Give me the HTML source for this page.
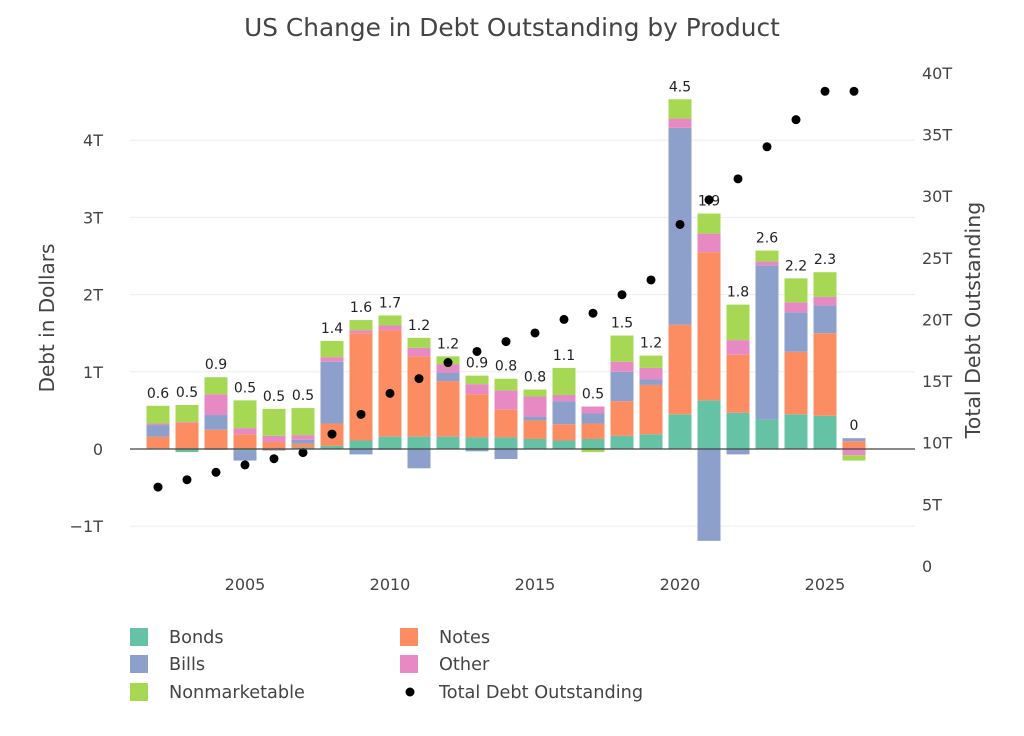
<!DOCTYPE html>
<html><head><meta charset="utf-8"><style>
body{margin:0;background:#fff;font-family:"DejaVu Sans",sans-serif}
svg text{font-family:"DejaVu Sans",sans-serif}
</style></head><body>
<svg id="c" width="1024" height="732" xmlns="http://www.w3.org/2000/svg">
<text x="512" y="36" text-anchor="middle" font-size="24.8" fill="#444">US Change in Debt Outstanding by Product</text>
<g id="grid"></g><g id="bars"></g><g id="dots"></g><g id="axes"></g><g id="legend"></g>
</svg>
<script>
const years=[2002,2003,2004,2005,2006,2007,2008,2009,2010,2011,2012,2013,2014,2015,2016,2017,2018,2019,2020,2021,2022,2023,2024,2025,2026];
const bonds=[0.01,-0.04,-0.01,-0.02,0,0.02,0.04,0.11,0.16,0.16,0.16,0.15,0.15,0.13,0.11,0.13,0.17,0.19,0.45,0.63,0.47,0.38,0.45,0.43,0];
const notes=[0.15,0.34,0.25,0.19,0.09,0.05,0.29,1.39,1.38,1.04,0.72,0.56,0.36,0.24,0.21,0.20,0.45,0.64,1.16,1.92,0.75,0,0.81,1.07,0.10];
const bills=[0.15,0,0.19,-0.13,-0.02,0.05,0.80,-0.07,-0.01,-0.25,0.11,-0.03,-0.13,0.05,0.30,0.13,0.38,0.07,2.55,-1.19,-0.07,2.00,0.51,0.36,0.04];
const other=[0.02,0.01,0.27,0.08,0.08,0.06,0.06,0.04,0.06,0.11,0.11,0.13,0.25,0.26,0.08,0.09,0.13,0.15,0.12,0.24,0.19,0.05,0.13,0.11,-0.08];
const nonmarketable=[0.23,0.22,0.22,0.36,0.35,0.35,0.21,0.13,0.13,0.13,0.10,0.11,0.15,0.09,0.35,-0.04,0.34,0.16,0.25,0.26,0.46,0.14,0.31,0.32,-0.07];
const labels=["0.6","0.5","0.9","0.5","0.5","0.5","1.4","1.6","1.7","1.2","1.2","0.9","0.8","0.8","1.1","0.5","1.5","1.2","4.5","1.9","1.8","2.6","2.2","2.3","0"];
const totalDebt=[6.4,7.0,7.6,8.2,8.7,9.2,10.7,12.3,14.0,15.2,16.5,17.4,18.2,18.9,20.0,20.5,22.0,23.2,27.7,29.7,31.4,34.0,36.2,38.5,38.5];
const leftTicks=[-1,0,1,2,3,4];
const leftTickLabels=["−1T","0","1T","2T","3T","4T"];
const rightTicks=[0,5,10,15,20,25,30,35,40];
const xTicks=[2005,2010,2015,2020,2025];

const NS="http://www.w3.org/2000/svg";
const X0=130,X1=915;
const x=yr=>245+(yr-2005)*29;
const yL=v=>449-v*77.2;
const yR=v=>566-v*12.33;
function el(t,a,p){const e=document.createElementNS(NS,t);for(const k in a)e.setAttribute(k,a[k]);document.getElementById(p).appendChild(e);return e;}

leftTicks.forEach((t,i)=>{
  if(t!==0){const g=el('line',{x1:X0,x2:X1,y1:yL(t),y2:yL(t),stroke:'#eee','stroke-width':1},'grid');
  
  }
  const tx=el('text',{x:103,y:yL(t)+6,'text-anchor':'end','font-size':16,fill:'#444'},'axes');tx.textContent=leftTickLabels[i];
  
  
});
rightTicks.forEach(t=>{
  const tx=el('text',{x:922,y:yR(t)+6,'font-size':16,fill:'#444'},'axes');tx.textContent=t===0?'0':t+'T';
  
  
});
xTicks.forEach(t=>{
  const tx=el('text',{x:x(t),y:590,'text-anchor':'middle','font-size':16,fill:'#444'},'axes');tx.textContent=t;
  
  
});
const series=[["Bonds",bonds,"#66c2a5"],["Notes",notes,"#fc8d62"],["Bills",bills,"#8da0cb"],["Other",other,"#e78ac3"],["Nonmarketable",nonmarketable,"#a6d854"]];
years.forEach((yr,i)=>{
  let pos=0,neg=0;
  series.forEach(([n,arr,c])=>{
    const v=arr[i];if(!v)return;
    let a,b;if(v>0){a=pos;b=pos+v;pos=b;}else{a=neg;b=neg+v;neg=b;}
    const r=el('rect',{x:x(yr)-11.5,width:23,y:yL(Math.max(a,b)),height:Math.abs(yL(a)-yL(b)),fill:c},'bars');
    
    
  });
  const t=el('text',{x:x(yr),y:yL(pos)-8,'text-anchor':'middle','font-size':14,fill:'#222'},'bars');t.textContent=labels[i];
  
  
  const d=el('circle',{cx:x(yr),cy:yR(totalDebt[i]),r:4.5,fill:'#000'},'dots');
  
  
});
const z=el('line',{x1:X0,x2:X1,y1:yL(0),y2:yL(0),stroke:'#444','stroke-width':1.2},'axes');


const t1=el('text',{x:54,y:318,'text-anchor':'middle','font-size':20,fill:'#444',transform:'rotate(-90 54 318)'},'axes');t1.textContent='Debt in Dollars';


const t2=el('text',{x:980,y:320,'text-anchor':'middle','font-size':20.5,fill:'#444',transform:'rotate(-90 980 320)'},'axes');t2.textContent='Total Debt Outstanding';


const leg=[["Bonds","#66c2a5",130,637,0],["Notes","#fc8d62",400,637,0],["Bills","#8da0cb",130,664,0],["Other","#e78ac3",400,664,0],["Nonmarketable","#a6d854",130,692,0],["Total Debt Outstanding","#000",400,692,1]];
leg.forEach(([n,c,lx,ly,dot])=>{
  const m=dot?el('circle',{cx:lx+10,cy:ly,r:4.5,fill:c},'legend'):el('rect',{x:lx,y:ly-9,width:18,height:18,fill:c},'legend');
  
  
  const t=el('text',{x:lx+39,y:ly+6,'font-size':17.7,fill:'#444'},'legend');t.textContent=n;
  
  
});
</script>
</body></html>
